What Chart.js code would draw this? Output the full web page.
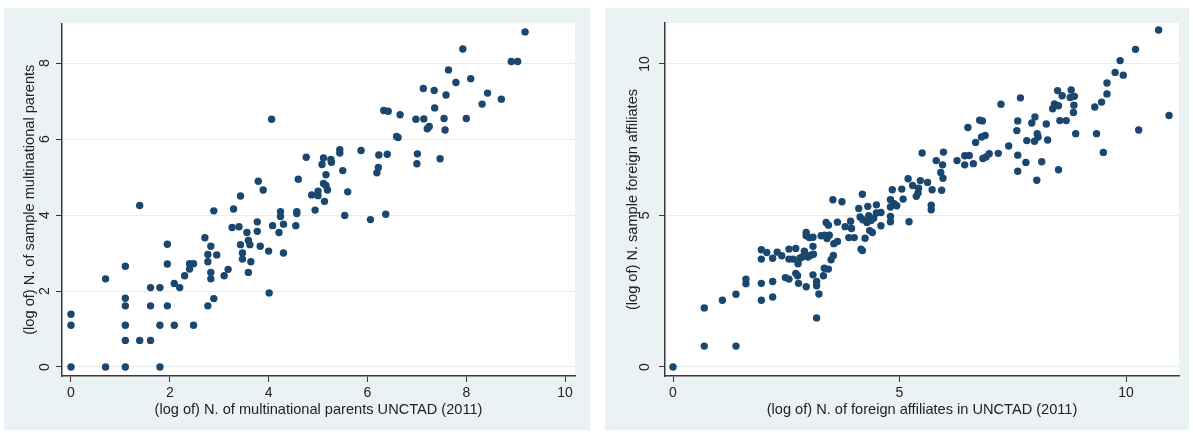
<!DOCTYPE html>
<html>
<head>
<meta charset="utf-8">
<script src="https://cdn.jsdelivr.net/npm/chart.js@4.4.1/dist/chart.umd.min.js"></script>
<style>
    body { margin: 0; background: #ffffff; width: 1193px; height: 433px; position: relative; overflow: hidden; }
    .panel { position: absolute; top: 8px; height: 422px; background: #eaf2f3; }
    #panel-left { left: 4px; width: 586px; }
    #panel-right { left: 605px; width: 584px; }
</style>
</head>
<body>
<div class="panel" id="panel-left"><canvas id="chart-left" width="586" height="422"></canvas></div>
<div class="panel" id="panel-right"><canvas id="chart-right" width="584" height="422"></canvas></div>
<script>
// left: multinational parents, log values
const leftX = [
    0, 0, 0, 0.70, 0.70, 1.10, 1.10, 1.10, 1.10, 1.10,
    1.10, 1.39, 1.39, 1.61, 1.61, 1.61, 1.80, 1.80, 1.80, 1.95,
    1.95, 1.95, 2.09, 2.09, 2.20, 2.30, 2.40, 2.40, 2.48, 2.48,
    2.71, 2.77, 2.77, 2.77, 2.83, 2.83, 2.83, 2.89, 2.89, 2.95,
    3.10, 3.18, 3.26, 3.29, 3.40, 3.43, 3.43, 3.47, 3.47, 3.56,
    3.59, 3.59, 3.62, 3.64, 3.77, 3.77, 3.79, 3.83, 3.89, 4.00,
    4.01, 4.06, 4.08, 4.21, 4.24, 4.24, 4.30, 4.30, 4.55, 4.57,
    4.57, 4.60, 4.76, 4.87, 4.94, 5.00, 5.00, 5.08, 5.11, 5.11,
    5.13, 5.16, 5.16, 5.19, 5.26, 5.27, 5.44, 5.44, 5.50, 5.54,
    5.60, 5.87, 6.06, 6.19, 6.22, 6.23, 6.33, 6.37, 6.40, 6.42,
    6.59, 6.62, 6.66, 6.98, 7.01, 7.00, 7.13, 7.14, 7.21, 7.25,
    7.35, 7.36, 7.47, 7.55, 7.57, 7.59, 7.64, 7.79, 7.93, 8.00,
    8.09, 8.32, 8.43, 8.71, 8.91, 9.04, 9.19
];
const leftY = [
    0, 1.10, 1.39, 0, 2.32, 0, 0.70, 1.10, 1.61, 1.81,
    2.65, 0.70, 4.25, 0.70, 1.61, 2.09, 0, 1.10, 2.09, 1.61,
    2.71, 3.23, 1.10, 2.20, 2.09, 2.40, 2.58, 2.72, 1.10, 2.72,
    3.40, 2.77, 2.96, 1.61, 2.49, 2.32, 3.18, 4.11, 1.80, 2.95,
    2.40, 2.57, 3.67, 4.16, 3.69, 4.50, 3.22, 3.00, 2.84, 3.54,
    2.49, 3.33, 3.22, 2.77, 3.82, 3.57, 4.89, 3.18, 4.66, 3.05,
    1.95, 6.52, 3.72, 3.54, 4.09, 3.96, 3.76, 3.00, 3.72, 4.09,
    4.04, 4.94, 5.52, 4.53, 4.13, 4.63, 4.51, 5.33, 5.50, 4.83,
    4.36, 5.06, 4.78, 4.66, 5.46, 5.39, 5.72, 5.63, 5.17, 3.99,
    4.61, 5.70, 3.88, 5.11, 5.25, 5.58, 6.75, 4.02, 5.60, 6.73,
    6.07, 6.04, 6.64, 6.52, 5.61, 5.35, 7.33, 6.53, 6.27, 6.33,
    7.28, 6.82, 5.48, 6.54, 6.24, 7.16, 7.82, 7.49, 8.37, 6.54,
    7.59, 6.92, 7.21, 7.05, 8.04, 8.04, 8.82
];

// right: foreign affiliates, log values
const rightX = [
    0, 0.69, 0.69, 1.09, 1.39, 1.39, 1.61, 1.61, 1.95, 1.95,
    1.95, 1.95, 2.07, 2.20, 2.20, 2.20, 2.30, 2.40, 2.48, 2.56,
    2.56, 2.56, 2.65, 2.71, 2.71, 2.75, 2.76, 2.77, 2.80, 2.85,
    2.90, 2.94, 2.94, 2.94, 2.98, 3.01, 3.04, 3.09, 3.09, 3.09,
    3.10, 3.17, 3.17, 3.17, 3.22, 3.27, 3.32, 3.34, 3.35, 3.38,
    3.40, 3.43, 3.43, 3.45, 3.49, 3.53, 3.54, 3.55, 3.63, 3.63,
    3.73, 3.80, 3.88, 3.92, 3.94, 4.00, 4.10, 4.13, 4.15, 4.18,
    4.18, 4.19, 4.24, 4.28, 4.30, 4.32, 4.34, 4.37, 4.40, 4.43,
    4.49, 4.49, 4.59, 4.59, 4.80, 4.80, 4.80, 4.80, 4.84, 4.88,
    4.94, 5.05, 5.08, 5.21, 5.19, 5.29, 5.37, 5.41, 5.42, 5.46,
    5.50, 5.62, 5.70, 5.70, 5.72, 5.81, 5.91, 5.93, 5.95, 5.96,
    5.97, 6.27, 6.44, 6.44, 6.51, 6.54, 6.63, 6.68, 6.77, 6.83,
    6.81, 6.84, 6.89, 6.91, 6.98, 7.18, 7.24, 7.41, 7.59, 7.61,
    7.61, 7.61, 7.67, 7.79, 7.81, 7.92, 7.99, 7.98, 8.03, 8.04,
    8.06, 8.14, 8.24, 8.27, 8.38, 8.42, 8.49, 8.51, 8.51, 8.54,
    8.59, 8.68, 8.77, 8.79, 8.84, 8.85, 8.86, 8.89, 9.31, 9.35,
    9.46, 9.50, 9.58, 9.58, 9.76, 9.87, 9.94, 10.21, 10.28, 10.72, 10.95
];
const rightY = [
    0, 0.69, 1.95, 2.20, 0.69, 2.40, 2.90, 2.75, 3.87, 3.56,
    2.76, 2.20, 3.78, 3.59, 2.82, 2.31, 3.79, 3.67, 2.95, 2.90,
    3.89, 3.56, 3.56, 3.91, 3.09, 3.01, 3.41, 2.76, 3.59, 3.63,
    3.82, 4.44, 4.33, 2.65, 3.63, 4.27, 3.69, 3.98, 4.28, 3.04,
    3.72, 2.82, 2.68, 1.62, 2.41, 4.33, 3.01, 3.26, 4.35, 4.77,
    4.24, 3.23, 4.68, 4.35, 3.54, 5.52, 3.68, 4.07, 4.14, 4.78,
    5.45, 4.63, 4.27, 4.81, 4.57, 4.27, 5.23, 4.95, 3.89, 5.70,
    3.84, 4.86, 4.25, 4.77, 5.30, 4.99, 4.50, 4.83, 4.44, 4.91,
    5.35, 5.08, 4.66, 5.10, 5.28, 5.52, 4.97, 4.79, 5.85, 5.39,
    5.32, 5.87, 5.54, 4.79, 6.21, 5.99, 5.63, 5.74, 5.90, 6.15,
    7.06, 6.09, 5.34, 5.19, 5.85, 6.81, 6.42, 5.83, 6.67, 6.23,
    7.09, 6.81, 6.67, 6.97, 7.90, 6.98, 6.71, 7.41, 8.14, 8.12,
    7.59, 6.88, 7.64, 6.93, 7.04, 7.05, 8.67, 7.29, 7.80, 8.12,
    6.99, 6.46, 8.88, 6.75, 7.47, 8.05, 8.25, 7.45, 6.16, 7.70,
    7.59, 6.77, 8.02, 7.49, 8.52, 8.68, 9.12, 8.62, 6.51, 8.13,
    8.95, 8.13, 8.89, 9.14, 8.40, 8.64, 8.93, 7.70, 8.58, 7.70,
    8.74, 7.08, 9.01, 9.37, 9.72, 10.11, 9.63, 10.48, 7.82, 11.12, 8.30
];

const leftXTicks = [0, 2, 4, 6, 8, 10];
const leftYTicks = [0, 2, 4, 6, 8];
const rightXTicks = [0, 5, 10];
const rightYTicks = [0, 5, 10];

const leftXTitle = '(log of) N. of multinational parents UNCTAD (2011)';
const leftYTitle = '(log of) N. of sample multinational parents';
const rightXTitle = '(log of) N. of foreign affiliates in UNCTAD (2011)';
const rightYTitle = '(log of) N. sample foreign affiliates';

const markerColor = '#1a476f';
const axisColor = '#3a3a3a';
const textColor = '#222222';
const gridColor = '#e4edef';
const fontFamily = "'Liberation Sans', Arial, sans-serif";

// white plot region inside the light panel
const plotBackground = {
    id: 'plotBackground',
    beforeDraw: (chart) => {
        const {ctx, chartArea} = chart;
        ctx.save();
        ctx.fillStyle = '#ffffff';
        ctx.fillRect(chartArea.left, chartArea.top, chartArea.right - chartArea.left, chartArea.bottom - chartArea.top);
        ctx.restore();
    }
};

const scatterChart = (canvasId, cfg) => {
    const ctx = document.getElementById(canvasId).getContext('2d');
    const points = cfg.xs.map((x, i) => ({x: x, y: cfg.ys[i]}));

    return new Chart(ctx, {
        type: 'scatter',
        data: {
            datasets: [
                {
                    data: points,
                    backgroundColor: markerColor,
                    borderWidth: 0,
                    pointRadius: 3.7,
                    pointHoverRadius: 3.7,
                    clip: false,
                },
            ],
        },
        options: {
            responsive: false,
            devicePixelRatio: 1,
            animation: false,
            layout: {
                padding: {top: 15, right: cfg.padRight, left: 0, bottom: 0},
            },
            scales: {
                x: {
                    type: 'linear',
                    min: cfg.xMin,
                    max: cfg.xMax,
                    afterBuildTicks: (scale) => {
                        scale.ticks = cfg.xTicks.map(v => ({value: v}));
                    },
                    afterFit: (scale) => {
                        scale.height = 54;
                    },
                    border: {color: axisColor, width: 1.5},
                    grid: {
                        drawOnChartArea: false,
                        tickLength: 6,
                        tickColor: axisColor,
                        tickWidth: 1,
                    },
                    ticks: {
                        color: textColor,
                        font: {family: fontFamily, size: 14},
                        padding: 3,
                        maxRotation: 0,
                        callback: (value) => value,
                    },
                    title: {
                        display: true,
                        text: cfg.xTitle,
                        color: textColor,
                        font: {family: fontFamily, size: 14.6},
                        padding: {top: 0, bottom: 11},
                    },
                },
                y: {
                    type: 'linear',
                    min: cfg.yMin,
                    max: cfg.yMax,
                    afterBuildTicks: (scale) => {
                        scale.ticks = cfg.yTicks.map(v => ({value: v}));
                    },
                    afterFit: (scale) => {
                        scale.width = cfg.yAxisWidth;
                    },
                    border: {color: axisColor, width: 1.5},
                    grid: {
                        color: gridColor,
                        lineWidth: 1,
                        tickLength: 6,
                        tickColor: axisColor,
                        tickWidth: 1,
                    },
                    ticks: {
                        color: textColor,
                        font: {family: fontFamily, size: 14},
                        padding: cfg.yTickPad,
                        minRotation: 90,
                        maxRotation: 90,
                        crossAlign: 'center',
                        callback: (value) => value,
                    },
                    title: {
                        display: true,
                        text: cfg.yTitle,
                        color: textColor,
                        font: {family: fontFamily, size: 14.6},
                        padding: {top: cfg.yTitlePad, bottom: 0},
                    },
                },
            },
            plugins: {
                legend: {display: false},
                tooltip: {enabled: false},
            },
        },
        plugins: [plotBackground],
    });
};

scatterChart('chart-left', {
    xs: leftX, ys: leftY,
    xTicks: leftXTicks, yTicks: leftYTicks,
    xMin: -0.182, xMax: 10.2, yMin: -0.237, yMax: 9.044,
    xTitle: leftXTitle, yTitle: leftYTitle,
    padRight: 15, yAxisWidth: 58, yTickPad: 7, yTitlePad: 17,
});

scatterChart('chart-right', {
    xs: rightX, ys: rightY,
    xTicks: rightXTicks, yTicks: rightYTicks,
    xMin: -0.177, xMax: 11.17, yMin: -0.297, yMax: 11.35,
    xTitle: rightXTitle, yTitle: rightYTitle,
    padRight: 10, yAxisWidth: 60, yTickPad: 6, yTitlePad: 19,
});
</script>
</body>
</html>
